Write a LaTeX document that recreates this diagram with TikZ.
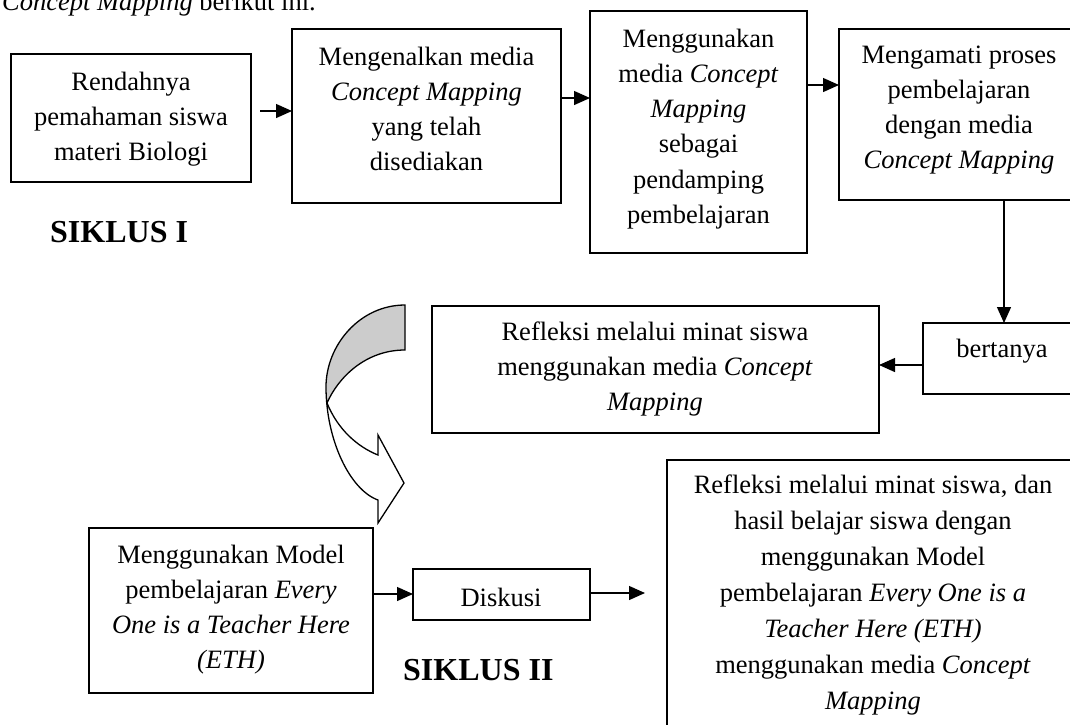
\documentclass[tikz,border=0pt]{standalone}
\usepackage{fontspec}
\setmainfont{Liberation Serif}
\usetikzlibrary{arrows.meta,calc}
\begin{document}
\begin{tikzpicture}[x=1pt,y=-1pt,
  box/.style={draw, line width=1.3pt, inner sep=0pt, outer sep=0pt, anchor=north west},
  txt/.style={inner sep=0pt, align=center, anchor=north, font=\fontsize{26.5}{35.2}\selectfont},
  arr/.style={line width=1.3pt, -{Triangle[length=16pt,width=14pt]}},
  siklus/.style={inner sep=0pt, anchor=base west, font=\fontsize{32}{36}\selectfont\bfseries}]
\useasboundingbox (0,0) rectangle (1070,724);
\fill[white] (0,0) rectangle (1070,724);
\clip (0,0) rectangle (1070,724);
\newcommand{\fl}{\rule{0pt}{24pt}}
% heading fragment cut by the top edge
\node[inner sep=0pt, anchor=base west, font=\fontsize{26.5}{35}\selectfont] (head) at (2,10) {\textit{Concept Mapping} berikut ini.};
% boxes
\node[box, minimum width=240pt, minimum height=128pt] (b1) at (11,54) {};
\node[box, minimum width=269pt, minimum height=174pt] (b2) at (292,29) {};
\node[box, minimum width=217pt, minimum height=242pt] (b3) at (590,11) {};
\node[box, minimum width=240pt, minimum height=171pt] (b4) at (839,29) {};
\node[box, minimum width=158pt, minimum height=71pt] (b5) at (923,323) {};
\node[box, minimum width=447pt, minimum height=127pt] (b6) at (432,306) {};
\node[box, minimum width=284pt, minimum height=165pt] (b7) at (89,528) {};
\node[box, minimum width=177pt, minimum height=51pt] (b8) at (413,569) {};
\node[box, minimum width=412pt, minimum height=290pt] (b9) at (667,460) {};
% texts
\node[txt] (t1) at (131,66) {\fl Rendahnya\\pemahaman siswa\\materi Biologi};
\node[txt] (t2) at (426.5,41) {\fl Mengenalkan media\\\textit{Concept Mapping}\\yang telah\\disediakan};
\node[txt] (t3) at (698.5,23) {\fl Menggunakan\\media \textit{Concept}\\\textit{Mapping}\\sebagai\\pendamping\\pembelajaran};
\node[txt] (t4) at (959,39) {\fl Mengamati proses\\pembelajaran\\dengan media\\\textit{Concept Mapping}};
\node[txt] (t5) at (1002,333) {\fl bertanya};
\node[txt] (t6) at (655,316) {\fl Refleksi melalui minat siswa\\menggunakan media \textit{Concept}\\\textit{Mapping}};
\node[txt] (t7) at (231,539) {\fl Menggunakan Model\\pembelajaran \textit{Every}\\\textit{One is a Teacher Here}\\\textit{(ETH)}};
\node[txt] (t8) at (501,582) {\fl Diskusi};
\node[txt, font=\fontsize{26.5}{36}\selectfont] (t9) at (873,469) {\fl Refleksi melalui minat siswa, dan\\hasil belajar siswa dengan\\menggunakan Model\\pembelajaran \textit{Every One is a}\\\textit{Teacher Here (ETH)}\\menggunakan media \textit{Concept}\\\textit{Mapping}};
% labels
\node[siklus] (s1) at (50,242) {SIKLUS I};
\node[siklus] (s2) at (403,680) {SIKLUS II};
% connectors
\coordinate (a1) at (260,111);
\draw[arr] (a1) -- (a1 -| b2.west);
\draw[arr] (b2.east |- 0,98) -- (b3.west |- 0,98);
\draw[arr] (b3.east |- 0,85) -- (b4.west |- 0,85);
\draw[arr] (b4.south -| 1004,0) -- (b5.north -| 1004,0);
\draw[arr] (b5.west |- 0,365) -- (b6.east |- 0,365);
\draw[arr] (b7.east |- 0,594) -- (b8.west |- 0,594);
\coordinate (a8) at (645,593);
\draw[arr] (b8.east |- a8) -- (a8);
% curved block arrow
\fill[gray!40] (405,305) .. controls (360,305) and (326,345) .. (326,387)
  -- (327,403) .. controls (338,378) and (365,350) .. (405,350) -- cycle;
\draw[line width=1.3pt, line join=miter]
  (405,305) .. controls (360,305) and (326,345) .. (326,387)
  .. controls (326,440) and (350,490) .. (378,500)
  -- (378,523) -- (404,483) -- (378,435) -- (378,455)
  .. controls (358,447) and (338,430) .. (327,403)
  .. controls (338,378) and (365,350) .. (405,350) -- cycle;
\end{tikzpicture}
\end{document}
